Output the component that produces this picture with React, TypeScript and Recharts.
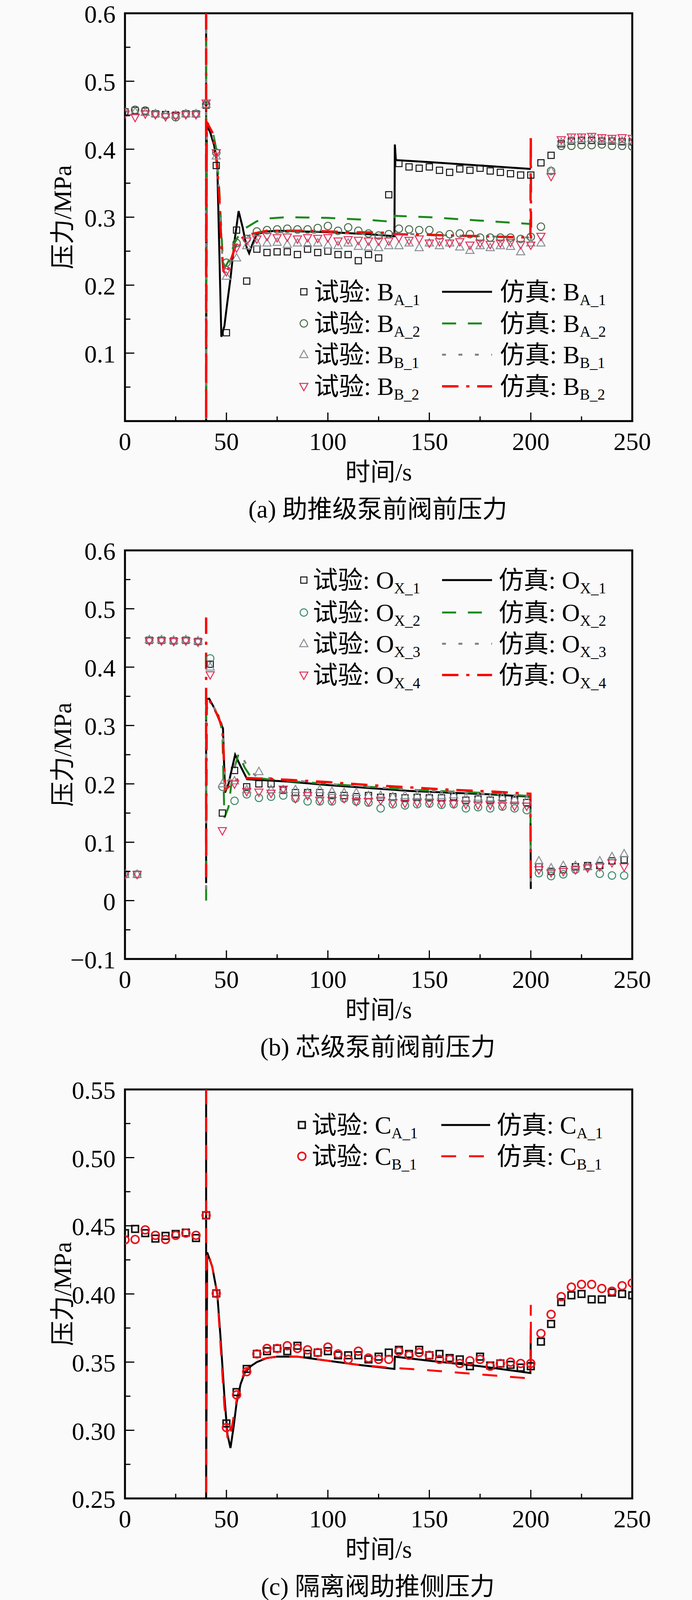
import React from "react";
import { ComposedChart, Line, Scatter, XAxis, YAxis, ReferenceArea } from "recharts";

const FONT = "'Liberation Serif', 'Times New Roman', 'Noto Sans CJK SC', serif";
const W = 1772;
const PLOT_L = 320;
const PLOT_R = 1619;

// ---------- (a) 助推级泵前阀前压力 ----------
const timeA = [0, 5, 10, 15, 20, 25, 30, 35, 40, 45, 50, 55, 60, 65, 70, 75, 80, 85, 90, 95, 100, 105, 110, 115, 120, 125, 130, 135, 140, 145, 150, 155, 160, 165, 170, 175, 180, 185, 190, 195, 200, 205, 210, 215, 220, 225, 230, 235, 240, 245, 250];
const expBA1 = [0.455, 0.457, 0.456, 0.452, 0.451, 0.45, 0.452, 0.452, 0.465, 0.376, 0.13, 0.281, 0.206, 0.253, 0.248, 0.249, 0.249, 0.245, 0.253, 0.248, 0.25, 0.245, 0.245, 0.236, 0.245, 0.24, 0.333, 0.379, 0.374, 0.372, 0.374, 0.369, 0.366, 0.371, 0.369, 0.372, 0.368, 0.366, 0.364, 0.362, 0.362, 0.38, 0.391, 0.408, 0.412, 0.413, 0.413, 0.412, 0.412, 0.411, 0.411];
const expBA2 = [0.455, 0.458, 0.457, 0.452, 0.45, 0.447, 0.452, 0.452, 0.466, 0.395, 0.233, 0.262, 0.268, 0.279, 0.281, 0.282, 0.283, 0.282, 0.282, 0.284, 0.287, 0.28, 0.285, 0.28, 0.276, 0.273, 0.275, 0.283, 0.282, 0.281, 0.281, 0.273, 0.275, 0.276, 0.275, 0.27, 0.27, 0.27, 0.27, 0.268, 0.271, 0.286, 0.368, 0.405, 0.405, 0.406, 0.406, 0.407, 0.405, 0.405, 0.404];
const expBB1 = [0.453, 0.455, 0.454, 0.452, 0.451, 0.45, 0.452, 0.452, 0.466, 0.39, 0.213, 0.24, 0.258, 0.262, 0.262, 0.263, 0.26, 0.262, 0.261, 0.262, 0.259, 0.258, 0.262, 0.257, 0.256, 0.255, 0.258, 0.258, 0.262, 0.255, 0.262, 0.258, 0.262, 0.256, 0.251, 0.258, 0.255, 0.258, 0.257, 0.249, 0.262, 0.262, 0.368, 0.41, 0.414, 0.415, 0.416, 0.414, 0.413, 0.412, 0.412];
const expBB2 = [0.452, 0.447, 0.452, 0.451, 0.448, 0.449, 0.451, 0.451, 0.468, 0.395, 0.22, 0.255, 0.265, 0.268, 0.272, 0.27, 0.271, 0.268, 0.27, 0.269, 0.27, 0.265, 0.267, 0.266, 0.265, 0.265, 0.265, 0.27, 0.266, 0.268, 0.262, 0.264, 0.262, 0.264, 0.259, 0.262, 0.26, 0.262, 0.263, 0.26, 0.259, 0.272, 0.36, 0.414, 0.418, 0.418, 0.419, 0.417, 0.416, 0.417, 0.416];

const simBA1: [number, number][] = [[40, 0.6], [40, 0], [40.3, 0.435], [42, 0.425], [44, 0.405], [45.5, 0.375], [46.5, 0.25], [47.5, 0.124], [49, 0.14], [50.5, 0.176], [52, 0.21], [54, 0.265], [56, 0.309], [58, 0.285], [60, 0.255], [61.2, 0.247], [63, 0.262], [65, 0.275], [70, 0.279], [75, 0.28], [100, 0.278], [120, 0.275], [132.8, 0.272], [133, 0.407], [133.5, 0.384], [150, 0.381], [175, 0.376], [200, 0.371]];
const simBA2: [number, number][] = [[40, 0.6], [40, 0], [40.3, 0.44], [43, 0.43], [45, 0.4], [46.5, 0.34], [48, 0.25], [49, 0.225], [51, 0.235], [54, 0.262], [57, 0.278], [60, 0.285], [65, 0.294], [70, 0.298], [80, 0.3], [100, 0.299], [120, 0.296], [132.8, 0.293], [133, 0.302], [150, 0.3], [175, 0.295], [200, 0.29], [200, 0.31]];
const simBB1: [number, number][] = [[40, 0.6], [40, 0], [40.3, 0.44], [43, 0.425], [45, 0.395], [46.5, 0.33], [48, 0.24], [49, 0.22], [51, 0.228], [54, 0.255], [57, 0.268], [60, 0.272], [65, 0.276], [70, 0.278], [100, 0.277], [130, 0.274], [133, 0.276], [150, 0.274], [175, 0.272], [200, 0.27]];
const simBB2: [number, number][] = [[40, 0.6], [40, 0], [40.3, 0.44], [43, 0.425], [45, 0.39], [46.5, 0.33], [47.5, 0.26], [48.5, 0.221], [50, 0.215], [52, 0.235], [55, 0.262], [58, 0.27], [62, 0.275], [70, 0.28], [90, 0.28], [110, 0.278], [130, 0.277], [133, 0.275], [150, 0.274], [175, 0.272], [199.8, 0.27], [200, 0.42], [200.1, 0.26]];

// ---------- (b) 芯级泵前阀前压力 ----------
const timeB = [0, 6, 12, 18, 24, 30, 36, 42, 48, 54, 60, 66, 72, 78, 84, 90, 96, 102, 108, 114, 120, 126, 132, 138, 144, 150, 156, 162, 168, 174, 180, 186, 192, 198, 204, 210, 216, 222, 228, 234, 240, 246];
const expOX1 = [0.045, 0.045, 0.446, 0.446, 0.445, 0.446, 0.444, 0.405, 0.15, 0.223, 0.195, 0.2, 0.2, 0.189, 0.185, 0.185, 0.185, 0.18, 0.18, 0.178, 0.18, 0.177, 0.178, 0.176, 0.177, 0.176, 0.176, 0.178, 0.172, 0.174, 0.172, 0.176, 0.172, 0.168, 0.058, 0.05, 0.053, 0.058, 0.06, 0.06, 0.068, 0.07];
const expOX2 = [0.045, 0.045, 0.446, 0.446, 0.445, 0.446, 0.444, 0.415, 0.195, 0.171, 0.182, 0.176, 0.178, 0.18, 0.175, 0.17, 0.17, 0.17, 0.175, 0.17, 0.168, 0.158, 0.165, 0.163, 0.165, 0.166, 0.164, 0.165, 0.158, 0.16, 0.158, 0.161, 0.158, 0.155, 0.047, 0.042, 0.045, 0.053, 0.058, 0.046, 0.043, 0.043];
const expOX3 = [0.045, 0.045, 0.447, 0.447, 0.446, 0.447, 0.445, 0.4, 0.2, 0.205, 0.19, 0.221, 0.19, 0.19, 0.19, 0.185, 0.19, 0.187, 0.185, 0.185, 0.18, 0.18, 0.178, 0.18, 0.18, 0.179, 0.18, 0.181, 0.176, 0.177, 0.176, 0.177, 0.174, 0.172, 0.068, 0.056, 0.06, 0.06, 0.058, 0.068, 0.075, 0.08];
const expOX4 = [0.045, 0.045, 0.445, 0.445, 0.444, 0.445, 0.443, 0.387, 0.12, 0.2, 0.187, 0.186, 0.184, 0.191, 0.175, 0.18, 0.172, 0.172, 0.175, 0.17, 0.17, 0.172, 0.168, 0.167, 0.168, 0.168, 0.167, 0.166, 0.165, 0.164, 0.164, 0.163, 0.162, 0.162, 0.053, 0.048, 0.05, 0.053, 0.056, 0.058, 0.065, 0.058];

const simOX1: [number, number][] = [[40, 0.03], [40, 0.345], [41.5, 0.346], [44, 0.33], [47, 0.305], [48.3, 0.295], [49.3, 0.185], [51, 0.2], [54.3, 0.25], [57, 0.23], [60.2, 0.208], [70, 0.206], [80, 0.204], [100, 0.198], [120, 0.193], [140, 0.188], [160, 0.185], [180, 0.182], [199.8, 0.178], [200, 0.02]];
const simOX2: [number, number][] = [[40, 0], [40, 0.33], [42, 0.328], [46, 0.318], [48, 0.29], [49, 0.142], [51, 0.16], [53, 0.215], [56, 0.252], [59, 0.228], [62, 0.212], [70, 0.208], [80, 0.205], [100, 0.2], [120, 0.195], [140, 0.19], [160, 0.187], [180, 0.184], [199.8, 0.179], [200, 0.037]];
const simOX3: [number, number][] = [[40, 0.02], [40, 0.34], [42, 0.34], [45, 0.325], [48, 0.3], [49.5, 0.2], [52, 0.21], [55, 0.24], [58, 0.245], [61, 0.225], [65, 0.212], [80, 0.207], [100, 0.2], [140, 0.19], [199.8, 0.179], [200, 0.03]];
const simOX4: [number, number][] = [[40, 0.485], [40, 0.04], [40.3, 0.35], [43, 0.335], [46, 0.315], [48, 0.295], [49.5, 0.19], [51, 0.195], [54, 0.205], [57, 0.21], [60, 0.21], [80, 0.207], [100, 0.203], [120, 0.198], [140, 0.194], [160, 0.19], [180, 0.187], [199.8, 0.183], [200, 0.03]];

// ---------- (c) 隔离阀助推侧压力 ----------
const timeC = timeA;
const expCA1 = [0.4446, 0.4477, 0.4446, 0.4406, 0.4426, 0.444, 0.445, 0.441, 0.4577, 0.4004, 0.305, 0.328, 0.345, 0.356, 0.358, 0.36, 0.358, 0.362, 0.356, 0.357, 0.358, 0.355, 0.355, 0.355, 0.352, 0.354, 0.357, 0.359, 0.356, 0.359, 0.355, 0.356, 0.353, 0.352, 0.347, 0.354, 0.3475, 0.349, 0.348, 0.346, 0.347, 0.365, 0.378, 0.394, 0.399, 0.4, 0.396, 0.396, 0.401, 0.4, 0.399];
const expCB1 = [0.4397, 0.44, 0.447, 0.443, 0.44, 0.443, 0.4446, 0.443, 0.4577, 0.4004, 0.302, 0.326, 0.343, 0.356, 0.36, 0.36, 0.362, 0.36, 0.359, 0.357, 0.361, 0.356, 0.352, 0.358, 0.353, 0.352, 0.352, 0.358, 0.355, 0.357, 0.355, 0.352, 0.352, 0.349, 0.351, 0.352, 0.347, 0.349, 0.35, 0.349, 0.349, 0.371, 0.385, 0.398, 0.405, 0.407, 0.407, 0.404, 0.402, 0.406, 0.408];

const simCA1: [number, number][] = [[40, 0.55], [40, 0.25], [40.5, 0.4305], [43, 0.42], [45.5, 0.4], [47, 0.37], [49, 0.325], [50.5, 0.297], [52, 0.287], [53.5, 0.302], [55, 0.32], [57, 0.334], [59, 0.342], [62, 0.347], [65, 0.35], [70, 0.353], [75, 0.354], [85, 0.354], [100, 0.351], [115, 0.348], [132.8, 0.345], [133, 0.354], [150, 0.351], [175, 0.347], [199.8, 0.342], [200, 0.37]];
const simCB1: [number, number][] = [[40, 0.55], [40, 0.25], [40.5, 0.432], [43, 0.42], [45.5, 0.4], [47, 0.365], [49, 0.318], [50.5, 0.295], [51.5, 0.292], [53, 0.305], [55, 0.322], [57, 0.335], [59, 0.343], [62, 0.348], [65, 0.351], [70, 0.353], [75, 0.354], [85, 0.354], [100, 0.351], [115, 0.348], [130, 0.346], [150, 0.344], [175, 0.341], [199.8, 0.338], [200, 0.392], [200.1, 0.345]];

// ---------- ticks ----------
const xTicks = [0, 25, 50, 75, 100, 125, 150, 175, 200, 225, 250];
const xLabels = ["0", "", "50", "", "100", "", "150", "", "200", "", "250"];
const yTicksA = [0, 0.05, 0.1, 0.15, 0.2, 0.25, 0.3, 0.35, 0.4, 0.45, 0.5, 0.55, 0.6];
const yLabelsA = ["", "", "0.1", "", "0.2", "", "0.3", "", "0.4", "", "0.5", "", "0.6"];
const yTicksB = [-0.1, -0.05, 0, 0.05, 0.1, 0.15, 0.2, 0.25, 0.3, 0.35, 0.4, 0.45, 0.5, 0.55, 0.6];
const yLabelsB = ["\u22120.1", "", "0", "", "0.1", "", "0.2", "", "0.3", "", "0.4", "", "0.5", "", "0.6"];
const yTicksC = [0.25, 0.275, 0.3, 0.325, 0.35, 0.375, 0.4, 0.425, 0.45, 0.475, 0.5, 0.525, 0.55];
const yLabelsC = ["0.25", "", "0.30", "", "0.35", "", "0.40", "", "0.45", "", "0.50", "", "0.55"];

const toPts = (ts: number[], vs: number[]) => ts.map((t, i) => ({ t, v: vs[i] }));
const pairPts = (ps: [number, number][]) => ps.map(([t, v]) => ({ t, v }));

type Kind = "square" | "circle" | "up" | "down";

const drawMarker = (kind: Kind, cx: number, cy: number, color: string, s: number, sw: number, key?: string) => {
  if (cx == null || cy == null) return <g key={key} />;
  if (kind === "square")
    return <rect key={key} x={cx - s / 2} y={cy - s / 2} width={s} height={s} fill="none" stroke={color} strokeWidth={sw} />;
  if (kind === "circle") return <circle key={key} cx={cx} cy={cy} r={s / 2} fill="none" stroke={color} strokeWidth={sw} />;
  const h = s * 0.9;
  const pts =
    kind === "up"
      ? `${cx},${cy - h * 0.6} ${cx - s / 2},${cy + h * 0.4} ${cx + s / 2},${cy + h * 0.4}`
      : `${cx},${cy + h * 0.6} ${cx - s / 2},${cy - h * 0.4} ${cx + s / 2},${cy - h * 0.4}`;
  return <polygon key={key} points={pts} fill="none" stroke={color} strokeWidth={sw} strokeLinejoin="miter" />;
};

interface Exp { label: string; base: string; sub: string; data: { t: number; v: number }[]; kind: Kind; color: string; size: number; sw: number }
interface Sim { base: string; sub: string; data: { t: number; v: number }[]; color: string; width: number; dash?: string }

interface PanelDef {
  top: number;
  height: number;
  plotTop: number;
  plotBottom: number;
  domain: [number, number];
  yTicks: number[];
  yLabels: string[];
  exp: Exp[];
  sim: Sim[];
  rows: number[];
  markerX: number;
  text1X: number;
  lineX: [number, number];
  text2X: number;
  caption: string;
}

const XTick = (props: any) => {
  const { x, y, payload } = props;
  const i = xTicks.indexOf(payload.value);
  const major = xLabels[i] !== "";
  return (
    <g>
      <line x1={x} x2={x} y1={y} y2={y - (major ? 22 : 12)} stroke="#000" strokeWidth={3} />
      {major && (
        <text x={x} y={y + 74} textAnchor="middle" fontSize={64} fontFamily={FONT} fill="#000">
          {xLabels[i]}
        </text>
      )}
    </g>
  );
};

const makeYTick = (ticks: number[], labels: string[]) => (props: any) => {
  const { x, y, payload } = props;
  const i = ticks.findIndex((t) => Math.abs(t - payload.value) < 1e-6);
  const lab = i >= 0 ? labels[i] : "";
  const major = lab !== "" || (i >= 0 && i % 2 === 0);
  return (
    <g>
      <line x1={x} x2={x + (major ? 24 : 14)} y1={y} y2={y} stroke="#000" strokeWidth={3} />
      {lab && (
        <text x={x - 24} y={y + 24} textAnchor="end" fontSize={64} fontFamily={FONT} fill="#000">
          {lab}
        </text>
      )}
    </g>
  );
};

const Panel = ({ p }: { p: PanelDef }) => {
  const YTick = makeYTick(p.yTicks, p.yLabels);
  const cx = (PLOT_L + PLOT_R) / 2;
  return (
    <div style={{ position: "absolute", left: 0, top: p.top, width: W, height: p.height }}>
      <ComposedChart
        width={W}
        height={p.height}
        margin={{ top: p.plotTop, right: W - PLOT_R, bottom: 0, left: 0 }}
        style={{ overflow: "visible" }}
      >
        <XAxis
          dataKey="t"
          type="number"
          domain={[0, 250]}
          ticks={xTicks}
          interval={0}
          allowDataOverflow
          axisLine={false}
          tickLine={false}
          tickSize={0}
          tickMargin={0}
          height={p.height - p.plotBottom}
          tick={XTick}
        />
        <YAxis
          type="number"
          domain={p.domain}
          ticks={p.yTicks}
          interval={0}
          allowDataOverflow
          axisLine={false}
          tickLine={false}
          tickSize={0}
          tickMargin={0}
          width={PLOT_L}
          tick={YTick}
        />
        {p.exp.map((e) => (
          <Scatter
            key={e.label + e.sub}
            data={e.data}
            dataKey="v"
            isAnimationActive={false}
            shape={(s: any) => drawMarker(e.kind, s.cx, s.cy, e.color, e.size, e.sw)}
          />
        ))}
        {p.sim.map((s) => (
          <Line
            key={s.sub}
            data={s.data}
            dataKey="v"
            type="linear"
            stroke={s.color}
            strokeWidth={s.width}
            strokeDasharray={s.dash}
            dot={false}
            activeDot={false}
            isAnimationActive={false}
          />
        ))}
        <ReferenceArea x1={0} x2={250} y1={p.domain[0]} y2={p.domain[1]} fill="none" stroke="#000" strokeWidth={5} />
      </ComposedChart>
      <svg
        width={W}
        height={p.height}
        style={{ position: "absolute", left: 0, top: 0, pointerEvents: "none", overflow: "visible" }}
        fontFamily={FONT}
      >
        <text
          transform={`translate(160, ${(p.plotTop + p.plotBottom) / 2}) rotate(-90)`}
          textAnchor="middle"
          dominantBaseline="central"
          fontSize={64}
        >
          压力/MPa
        </text>
        <text x={cx} y={p.plotBottom + 130} textAnchor="middle" dominantBaseline="central" fontSize={64}>
          时间/s
        </text>
        <text x={cx - 2} y={p.plotBottom + 225} textAnchor="middle" dominantBaseline="central" fontSize={64}>
          {p.caption}
        </text>
        {p.exp.map((e, i) => (
          <g key={"le" + i}>
            {drawMarker(e.kind, p.markerX, p.rows[i], e.color, e.size, e.sw)}
            <text x={p.text1X} y={p.rows[i] + 22} fontSize={64}>
              {`试验: ${e.base}`}
              <tspan fontSize={39} dy={12}>
                {e.sub}
              </tspan>
            </text>
          </g>
        ))}
        {p.sim.map((s, i) => (
          <g key={"ls" + i}>
            <line
              x1={p.lineX[0]}
              x2={p.lineX[1]}
              y1={p.rows[i]}
              y2={p.rows[i]}
              stroke={s.color}
              strokeWidth={s.width}
              strokeDasharray={s.dash}
            />
            <text x={p.text2X} y={p.rows[i] + 22} fontSize={64}>
              {`仿真: ${s.base}`}
              <tspan fontSize={39} dy={12}>
                {s.sub}
              </tspan>
            </text>
          </g>
        ))}
      </svg>
    </div>
  );
};

const GREEN_DASH = "36 30";
const GREY_DOT = "10 32";
const RED_DASHDOT = "42 20 8 20";

const panelA: PanelDef = {
  top: 0,
  height: 1340,
  plotTop: 34,
  plotBottom: 1078,
  domain: [0, 0.6],
  yTicks: yTicksA,
  yLabels: yLabelsA,
  exp: [
    { label: "a1", base: "B", sub: "A_1", data: toPts(timeA, expBA1), kind: "square", color: "#111", size: 16, sw: 2.5 },
    { label: "a2", base: "B", sub: "A_2", data: toPts(timeA, expBA2), kind: "circle", color: "#4a6a4a", size: 19, sw: 2.5 },
    { label: "a3", base: "B", sub: "B_1", data: toPts(timeA, expBB1), kind: "up", color: "#8a8f96", size: 21, sw: 2.5 },
    { label: "a4", base: "B", sub: "B_2", data: toPts(timeA, expBB2), kind: "down", color: "#e0305a", size: 21, sw: 2.5 },
  ],
  sim: [
    { base: "B", sub: "A_1", data: pairPts(simBA1), color: "#000", width: 5 },
    { base: "B", sub: "A_2", data: pairPts(simBA2), color: "#1a8a1a", width: 5, dash: GREEN_DASH },
    { base: "B", sub: "B_1", data: pairPts(simBB1), color: "#808080", width: 5, dash: GREY_DOT },
    { base: "B", sub: "B_2", data: pairPts(simBB2), color: "#ff0000", width: 6, dash: RED_DASHDOT },
  ],
  rows: [747, 828, 908, 989],
  markerX: 778,
  text1X: 804,
  lineX: [1132, 1260],
  text2X: 1280,
  caption: "(a) 助推级泵前阀前压力",
};

const panelB: PanelDef = {
  top: 1340,
  height: 1380,
  plotTop: 69,
  plotBottom: 1115,
  domain: [-0.1, 0.6],
  yTicks: yTicksB,
  yLabels: yLabelsB,
  exp: [
    { label: "b1", base: "O", sub: "X_1", data: toPts(timeB, expOX1), kind: "square", color: "#111", size: 16, sw: 2.5 },
    { label: "b2", base: "O", sub: "X_2", data: toPts(timeB, expOX2), kind: "circle", color: "#3c8a6a", size: 19, sw: 2.5 },
    { label: "b3", base: "O", sub: "X_3", data: toPts(timeB, expOX3), kind: "up", color: "#8a8f96", size: 21, sw: 2.5 },
    { label: "b4", base: "O", sub: "X_4", data: toPts(timeB, expOX4), kind: "down", color: "#e0305a", size: 21, sw: 2.5 },
  ],
  sim: [
    { base: "O", sub: "X_1", data: pairPts(simOX1), color: "#000", width: 5 },
    { base: "O", sub: "X_2", data: pairPts(simOX2), color: "#1a8a1a", width: 5, dash: GREEN_DASH },
    { base: "O", sub: "X_3", data: pairPts(simOX3), color: "#808080", width: 5, dash: GREY_DOT },
    { base: "O", sub: "X_4", data: pairPts(simOX4), color: "#ff0000", width: 6, dash: RED_DASHDOT },
  ],
  rows: [145, 228, 308, 388],
  markerX: 778,
  text1X: 801,
  lineX: [1132, 1260],
  text2X: 1277,
  caption: "(b) 芯级泵前阀前压力",
};

const panelC: PanelDef = {
  top: 2720,
  height: 1379,
  plotTop: 69,
  plotBottom: 1116,
  domain: [0.25, 0.55],
  yTicks: yTicksC,
  yLabels: yLabelsC,
  exp: [
    { label: "c1", base: "C", sub: "A_1", data: toPts(timeC, expCA1), kind: "square", color: "#111", size: 17, sw: 4 },
    { label: "c2", base: "C", sub: "B_1", data: toPts(timeC, expCB1), kind: "circle", color: "#e8141e", size: 20, sw: 4 },
  ],
  sim: [
    { base: "C", sub: "A_1", data: pairPts(simCA1), color: "#000", width: 5 },
    { base: "C", sub: "B_1", data: pairPts(simCB1), color: "#ff0000", width: 5, dash: "38 33" },
  ],
  rows: [160, 240],
  markerX: 773,
  text1X: 798,
  lineX: [1130, 1255],
  text2X: 1272,
  caption: "(c) 隔离阀助推侧压力",
};

export default function App() {
  return (
    <div style={{ position: "absolute", left: 0, top: 0, width: W, height: 4099, background: "#fafafa", overflow: "hidden" }}>
      <Panel p={panelA} />
      <Panel p={panelB} />
      <Panel p={panelC} />
    </div>
  );
}
